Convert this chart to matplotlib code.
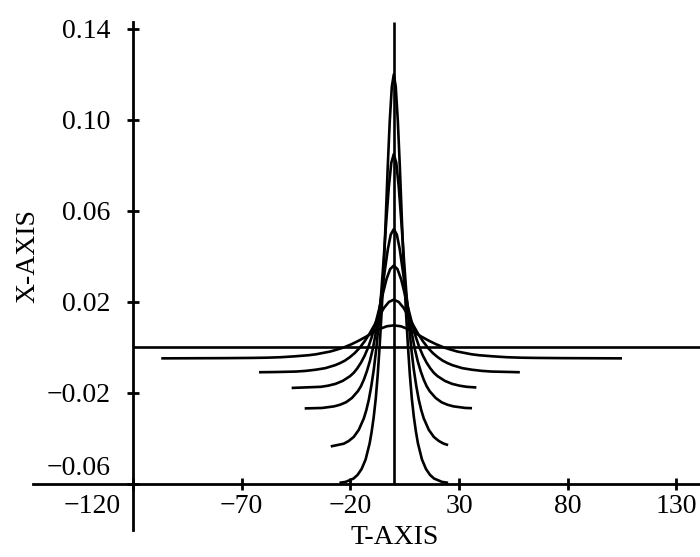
"""
Family of peaked curves x(t) collapsing onto a spike at t = 0.
Values read off the scanned figure (T-AXIS vs X-AXIS).
Output: out.png
"""

import matplotlib
matplotlib.use("Agg")
import matplotlib.pyplot as plt
import matplotlib.transforms as mtransforms

# ── Style ──────────────────────────────────────────────────────────────────────
INK = "black"

plt.rcParams.update({
    "font.family":      "serif",
    "font.serif":       ["Liberation Serif", "DejaVu Serif"],
    "font.size":        20,
    "axes.unicode_minus": True,
})

# ── Data ───────────────────────────────────────────────────────────────────────
# Each bump is symmetric about t = 0: right-hand half profile (t >= 0) plus the
# t where the drawn tail stops on the left and on the right.

# flat limit curve
T_FLAT = [-120, 141]
X_FLAT = [0.0, 0.0]

T_C1 = [0, 3.25, 6.5, 9.75, 13, 16.25, 19.5, 22.75, 26, 29.25, 32.5, 35.75,
        39, 45.5, 52, 58.5, 65, 78]
X_C1 = [0.0097, 0.0093, 0.0081, 0.0064, 0.0046, 0.0029, 0.0014, 0.0001,
        -0.0009, -0.0018, -0.0024, -0.0030, -0.0034, -0.0039, -0.0043,
        -0.0045, -0.0046, -0.0047]
END_C1 = [(-107, -0.0048), (105, -0.0048)]

T_C2 = [0, 2.25, 4.5, 6.75, 9, 11.25, 13.5, 15.75, 18, 20.25, 22.5, 24.75,
        27, 31.5, 36, 40.5, 45, 54]
X_C2 = [0.0210, 0.0200, 0.0174, 0.0137, 0.0097, 0.0059, 0.0026, -0.0002,
        -0.0025, -0.0043, -0.0058, -0.0069, -0.0078, -0.0091, -0.0098,
        -0.0103, -0.0106, -0.0108]
END_C2 = [(-62, -0.0109), (58, -0.0109)]

T_C3 = [0, 1.7, 3.4, 5.0, 6.7, 8.4, 10.0, 11.7, 13.4, 15.1, 16.8, 18.4,
        20.1, 23.5, 26.8, 30.2, 33.5]
X_C3 = [0.0360, 0.0344, 0.0299, 0.0237, 0.0170, 0.0106, 0.0050, 0.0002,
        -0.0036, -0.0067, -0.0092, -0.0111, -0.0126, -0.0147, -0.0160,
        -0.0168, -0.0173]
END_C3 = [(-47, -0.0178), (38, -0.0176)]

T_C4 = [0, 1.4, 2.75, 4.1, 5.5, 6.9, 8.25, 9.6, 11, 12.4, 13.75, 15.1,
        16.5, 19.25, 22, 24.75, 27.5, 33]
X_C4 = [0.0520, 0.0496, 0.0431, 0.0340, 0.0242, 0.0148, 0.0066, -0.0004,
        -0.0060, -0.0105, -0.0141, -0.0170, -0.0192, -0.0222, -0.0241,
        -0.0252, -0.0259, -0.0266]
END_C4 = [(-41, -0.0268), (36, -0.0267)]

T_C5 = [0, 1.15, 2.3, 3.45, 4.6, 5.75, 6.9, 8.05, 9.2, 10.35, 11.5, 12.65,
        13.8, 16.1, 18.4, 20.7, 23]
X_C5 = [0.0850, 0.0811, 0.0704, 0.0556, 0.0396, 0.0243, 0.0108, -0.0005,
        -0.0097, -0.0170, -0.0230, -0.0276, -0.0312, -0.0362, -0.0393,
        -0.0411, -0.0423]
END_C5 = [(-29, -0.0435), (25, -0.0429)]

# narrowest bump (its tails run down onto the T-axis)
T_C6 = [0, 0.9, 1.85, 2.8, 3.7, 4.6, 5.55, 6.5, 7.4, 8.3, 9.25, 10.2,
        11.1, 12.95, 14.8, 16.65, 18.5, 22.2]
X_C6 = [0.1200, 0.1146, 0.0997, 0.0790, 0.0566, 0.0353, 0.0165, 0.0007,
        -0.0121, -0.0225, -0.0307, -0.0371, -0.0421, -0.0492, -0.0534,
        -0.0560, -0.0576, -0.0591]
END_C6 = [(-25, -0.0595), (25, -0.0595)]

# limiting spike
T_SPIKE = [0, 0]
X_SPIKE = [-0.06, 0.143]

X_TICKS = [-120, -70, -20, 30, 80, 130]
X_TICK_LABELS = ["\u2212120", "\u221270", "\u221220", "30", "80", "130"]
Y_TICKS = [0.14, 0.10, 0.06, 0.02, -0.02, -0.06]
Y_TICK_LABELS = ["0.14", "0.10", "0.06", "0.02", "\u22120.02", "\u22120.06"]


def full_curve(t_half, x_half, ends):
    """Join the mirrored half profile with its left/right tail end points."""
    (tl, xl), (tr, xr) = ends
    t = [tl] + [-v for v in t_half[:0:-1]] + list(t_half) + [tr]
    x = [xl] + list(x_half[:0:-1]) + list(x_half) + [xr]
    return t, x


# ── Figure ─────────────────────────────────────────────────────────────────────
def draw():
    fig = plt.figure(figsize=(7.0, 5.57), dpi=100)
    ax = fig.add_axes([0, 0, 1, 1])
    ax.set_xlim(-181.2, 140.9)
    ax.set_ylim(-0.0921, 0.1527)

    curves = [(T_FLAT, X_FLAT), (T_SPIKE, X_SPIKE)]
    for th, xh, ends in [(T_C1, X_C1, END_C1), (T_C2, X_C2, END_C2),
                         (T_C3, X_C3, END_C3), (T_C4, X_C4, END_C4),
                         (T_C5, X_C5, END_C5), (T_C6, X_C6, END_C6)]:
        curves.append(full_curve(th, xh, ends))
    for t, x in curves:
        ax.plot(t, x, color=INK, lw=1.9, solid_capstyle="butt",
                solid_joinstyle="round", clip_on=False)

    # crossed axes: y axis at t = -120, T axis at x = -0.06
    for side in ("top", "right"):
        ax.spines[side].set_visible(False)
    ax.spines["left"].set_position(("data", -120))
    ax.spines["bottom"].set_position(("data", -0.06))
    ax.spines["left"].set_bounds(-0.0802, 0.143)
    ax.spines["bottom"].set_bounds(-166, 141)
    for side in ("left", "bottom"):
        ax.spines[side].set_linewidth(2.0)
        ax.spines[side].set_zorder(3)

    ax.set_xticks(X_TICKS)
    ax.set_xticklabels(X_TICK_LABELS)
    ax.set_yticks(Y_TICKS)
    ax.set_yticklabels(Y_TICK_LABELS)
    ax.tick_params(axis="both", direction="inout", length=8, width=2.0,
                   labelsize=20)
    ax.tick_params(axis="y", pad=12)
    ax.tick_params(axis="x", pad=3)

    # -120 sits left of the y axis, -0.06 sits above the T axis
    xl = ax.get_xticklabels()
    xl[0].set_horizontalalignment("right")
    xl[0].set_transform(xl[0].get_transform()
                        + mtransforms.ScaledTranslation(-0.12, 0, fig.dpi_scale_trans))
    yl = ax.get_yticklabels()
    yl[-1].set_verticalalignment("bottom")
    yl[-1].set_transform(yl[-1].get_transform()
                         + mtransforms.ScaledTranslation(0, 0.03, fig.dpi_scale_trans))

    fig.text(28 / 700, 1 - 256 / 557, "X-AXIS", rotation=90,
             ha="center", va="center", fontsize=20)
    fig.text(395 / 700, 1 - 537 / 557, "T-AXIS",
             ha="center", va="center", fontsize=20)

    fig.savefig("out.png", dpi=100)
    plt.close(fig)


if __name__ == "__main__":
    draw()
